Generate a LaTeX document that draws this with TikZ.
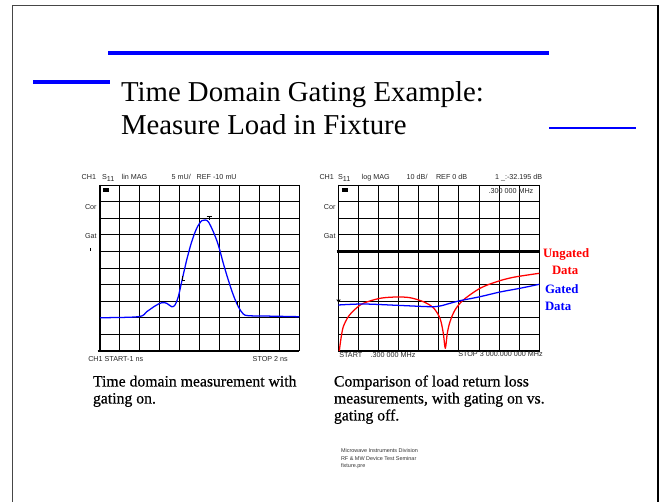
\documentclass[tikz,border=0pt]{standalone}
\usepackage{fontspec}
\setmainfont{Liberation Serif}
\newfontfamily\chartsans{Liberation Sans}
\newfontfamily\capfont[FakeBold=0.5]{Liberation Serif}
\definecolor{slideblue}{RGB}{0,0,255}
\definecolor{tracered}{RGB}{255,0,0}
\definecolor{framegray}{RGB}{70,70,70}
\begin{document}
\begin{tikzpicture}[x=0.75pt,y=-0.75pt,
  every node/.style={inner sep=0pt, outer sep=0pt},
  gridline/.style={line width=0.7pt, black},
  frameline/.style={line width=1.0pt, black},
  lbl/.style={font=\chartsans\fontsize{5.4}{6}\selectfont, anchor=base west, text=black!85},
  lblr/.style={lbl, anchor=base east},
  tiny/.style={font=\chartsans\fontsize{4.1}{5}\selectfont, anchor=base west, text=black!80},
  caption/.style={font=\capfont\fontsize{11.8}{14}\selectfont, anchor=base west},
  titletext/.style={font=\fontsize{21.6}{25}\selectfont, anchor=base west},
  legendtext/.style={font=\bfseries\fontsize{9.6}{11}\selectfont, anchor=base west},
  bluetrace/.style={slideblue, line width=0.95pt, line join=round},
  redtrace/.style={tracered, line width=0.95pt, line join=round},
  accent/.style={slideblue, line cap=butt}
]
\useasboundingbox (0,0) rectangle (661,502);

% slide frame
\draw[framegray, line width=1.4pt] (12.5,510) -- (12.5,5.5) -- (658,5.5);
\draw[black, line width=1.4pt] (658,5.5) -- (658,510);

% accent bars
\draw[accent, line width=2.6pt] (108,53) -- (549,53);
\draw[accent, line width=3.6pt] (33,82) -- (110,82);
\draw[accent, line width=1.9pt] (549,128) -- (636,128);

% title
\node[titletext] (title1) at (121,101.5) {Time Domain Gating Example:};
\node[titletext] (title2) at (121,134.5) {Measure Load in Fixture};

% ---------- left chart: time domain ----------
\foreach \i in {0,...,10} {
  \draw[gridline] ({100+\i*19.93},185) -- ({100+\i*19.93},351);
  \draw[gridline] (100,{185+\i*16.6}) -- (299.3,{185+\i*16.6});
}
\draw[frameline] (97.5,351) -- (299.3,351);
\draw[frameline] (100,185) -- (100,351);
\fill[black] (103,188.5) rectangle (108.5,192);

\node[lbl] (lch) at (81.7,179.5) {CH1};
\node[lbl] (lsp) at (102,179.5) {S\raisebox{-1.8pt}{11}};
\node[lbl] (lfmt) at (121.7,179.5) {lin MAG};
\node[lbl] (lscale) at (171.7,179.5) {5 mU/};
\node[lbl] (lref) at (196.7,179.5) {REF -10 mU};
\node[lbl] (lcor) at (85,210) {Cor};
\node[lbl] (lgat) at (85,238.3) {Gat};
\node[lbl] (lstart) at (88.3,361.7) {CH1 START-1 ns};
\node[lbl] (lstop) at (252.7,361.7) {STOP 2 ns};
\draw[black, line width=0.6pt] (90,248) -- (90,250.8);

\draw[bluetrace] plot[smooth, tension=0.55] coordinates {
  (100,317.7) (138.3,316.7) (146.7,311.7) (155,306) (161.7,302.7)
  (166.7,303.3) (171.7,306.7) (175,305) (178.3,296.7) (181.7,281.7)
  (186.7,260) (191.7,241.7) (196.7,228.3) (201.7,220.7) (205,220)
  (208.3,221.7) (213.3,231.7) (218.3,245) (223.3,263.3) (228.3,280)
  (233.3,295) (238.3,306.7) (243.3,314) (248.3,315.7) (263.3,316)
  (299.3,316.7)};
% markers on the trace
\draw[black, line width=0.6pt] (206.5,216.5) -- (211.5,216.5) (209,216.5) -- (209,220);
\draw[black, line width=0.6pt] (182,276) -- (182,280.5) -- (185,280.5);
\draw[black, line width=0.6pt] (237,301) -- (237,305.5);

% ---------- right chart: return loss ----------
\foreach \i in {0,...,10} {
  \draw[gridline] ({338.3+\i*20.1},185) -- ({338.3+\i*20.1},351);
  \draw[gridline] (338.3,{185+\i*16.6}) -- (539.3,{185+\i*16.6});
}
\draw[frameline] (338.3,185) -- (338.3,351) -- (539.3,351) -- (539.3,185);
\draw[black, line width=1.8pt] (336.5,251.4) -- (539.3,251.4);
\fill[black] (342,188.5) rectangle (347.5,192);

\node[lbl] (rch) at (319.5,179.5) {CH1};
\node[lbl] (rsp) at (338,179.5) {S\raisebox{-1.8pt}{11}};
\node[lbl] (rfmt) at (361.7,179.5) {log MAG};
\node[lbl] (rscale) at (406.7,179.5) {10 dB/};
\node[lbl] (rref) at (436,179.5) {REF 0 dB};
\node[lbl] (rmkr) at (495,179.5) {1 \_:-32.195 dB};
\node[lbl] (rmkf) at (488.5,193.5) {.300 000 MHz};
\node[lblr] (rcor) at (335.5,210) {Cor};
\node[lblr] (rgat) at (335.5,238.3) {Gat};
\node[lbl] (rstart) at (339.3,358) {START};
\node[lbl] (rstartf) at (370.7,358) {.300 000 MHz};
\node[lbl] (rstop) at (458.3,356.7) {STOP 3 000.000 000 MHz};

\draw[redtrace] plot[smooth, tension=0.5] coordinates {
  (339.3,351) (341,338.3) (343.3,326.7) (348.3,316.7) (355,309.3)
  (363.3,303.3) (380,298.3) (396.7,297) (410,297.7) (423.3,301.7)
  (433.3,307.7) (440,318.3) (443.3,333.3) (445.3,348.3) (447.3,333.3)
  (450,321.7) (455,310) (463.3,300) (480,288.3) (496.7,281.7)
  (513.3,277.3) (539.3,273.3)};
\draw[bluetrace] plot[smooth, tension=0.5] coordinates {
  (338.3,305) (363.3,304) (396.7,305.3) (430,306.7) (440,306)
  (450,303.3) (460,300.7) (480,296.7) (500,292) (520,288.3) (539.3,284.3)};
\draw[black, line width=0.6pt] (338.5,295) -- (338.5,302) (336.8,299.5) -- (338.5,302) -- (340.2,299.5);

\node[legendtext, text=tracered] (ung1) at (543,258) {Ungated};
\node[legendtext, text=tracered] (ung2) at (552,274.5) {Data};
\node[legendtext, text=slideblue] (gat1) at (545,294) {Gated};
\node[legendtext, text=slideblue] (gat2) at (545,310.7) {Data};

% ---------- captions ----------
\node[caption] (capl1) at (93,386.5) {Time domain measurement with};
\node[caption] (capl2) at (93,403.5) {gating on.};
\node[caption] (capr1) at (334,386.5) {Comparison of load return loss};
\node[caption] (capr2) at (334,403.5) {measurements, with gating on vs.};
\node[caption] (capr3) at (334,420.5) {gating off.};

% footer
\node[tiny] (foot1) at (341,453) {Microwave Instruments Division};
\node[tiny] (foot2) at (341,460.5) {RF \& MW Device Test Seminar};
\node[tiny] (foot3) at (341,468) {fixture.pre};
\end{tikzpicture}
\end{document}
